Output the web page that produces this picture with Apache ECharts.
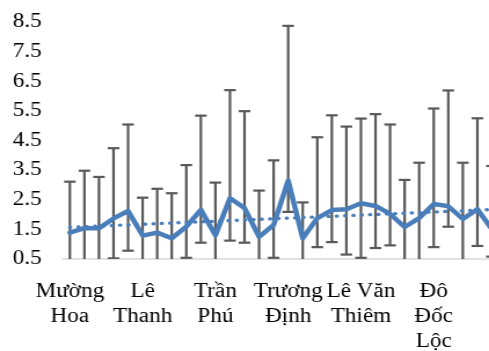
<!DOCTYPE html>
<html><head><meta charset="utf-8">
<script src="https://cdn.jsdelivr.net/npm/echarts@6/dist/echarts.min.js"></script>
<style>
html,body{margin:0;padding:0;background:#fff;overflow:hidden}
#wrap{width:489px;height:351px;overflow:hidden;position:relative;background:#fff}
#c{width:422px;height:351px;transform:scaleX(1.1588);transform-origin:0 0}
</style></head><body><div id="wrap"><div id="c"></div></div>
<script>
// categories (only every fifth name is shown in the picture)
const categories = [
  'Mường\nHoa','','','','',
  'Lê\nThanh','','','','',
  'Trần\nPhú','','','','',
  'Trương\nĐịnh','','','','',
  'Lê Văn\nThiêm','','','','',
  'Đô\nĐốc\nLộc','','','',''
];
const means = [1.39,1.54,1.54,1.87,2.12,1.29,1.39,1.20,1.59,2.16,
               1.30,2.55,2.22,1.25,1.65,3.15,1.20,1.88,2.15,2.18,
               2.38,2.29,2.02,1.58,1.88,2.36,2.28,1.85,2.18,1.50];
const highs = [3.11,3.48,3.27,4.24,5.04,2.57,2.87,2.72,3.67,5.34,
               3.08,6.20,5.49,2.81,3.83,8.37,2.41,4.61,5.35,4.97,
               5.24,5.39,5.04,3.17,3.75,5.58,6.19,3.75,5.25,3.64];
const lows  = [0.30,0.30,0.30,0.52,0.78,0.30,0.30,0.30,0.54,1.05,
               0.30,1.12,1.05,0.30,0.54,2.09,0.30,0.90,1.07,0.65,
               0.54,0.87,0.96,0.30,0.30,0.90,1.59,0.30,0.94,0.58];
const trendEnds = [1.57, 2.17];
const yMin = 0.5, yMax = 8.5, yStep = 1;

const chart = echarts.init(document.getElementById('c'), null, {renderer:'canvas'});
const font = 'Liberation Serif';
chart.setOption({
  animation:false,
  backgroundColor:'#fff',
  grid:{left:54, top:22, bottom:92, width:376.8, containLabel:false, outerBoundsMode:'none'},
  xAxis:{
    type:'category', data:categories, boundaryGap:true,
    axisLine:{show:true, lineStyle:{color:'#d9d9d9', width:1.5}},
    axisTick:{show:false},
    axisLabel:{interval:0, fontFamily:font, fontSize:20, color:'#000', lineHeight:25, margin:20}
  },
  yAxis:{
    type:'value', min:yMin, max:yMax, interval:yStep,
    axisLine:{show:false}, axisTick:{show:false}, splitLine:{show:false},
    axisLabel:{fontFamily:font, fontSize:20, color:'#000', margin:18}
  },
  series:[
    {
      type:'custom', clip:true, z:1,
      data: categories.map((c,i)=>[i, highs[i], lows[i]]),
      encode:{x:0, y:[1,2]},
      renderItem(params, api){
        const x = api.value(0);
        const pT = api.coord([x, api.value(1)]);
        const pB = api.coord([x, api.value(2)]);
        const h = 5;
        const st = {stroke:'#595959', lineWidth:2.2};
        return {type:'group', children:[
          {type:'line', shape:{x1:pT[0], y1:pT[1], x2:pB[0], y2:pB[1]}, style:st},
          {type:'line', shape:{x1:pT[0]-h, y1:pT[1], x2:pT[0]+h, y2:pT[1]}, style:st},
          {type:'line', shape:{x1:pB[0]-h, y1:pB[1], x2:pB[0]+h, y2:pB[1]}, style:st}
        ]};
      }
    },
    {
      type:'line', data:means, z:3, showSymbol:false, symbol:'none',
      lineStyle:{color:'#4a7ebb', width:4.5, cap:'round', join:'round'}
    },
    {
      type:'line', data:[[0, trendEnds[0]], [categories.length-1, trendEnds[1]]], z:4,
      showSymbol:false, symbol:'none',
      lineStyle:{color:'#4a7ebb', width:3.3, type:[0.5,6.7], cap:'round'}
    }
  ]
});
</script></body></html>
